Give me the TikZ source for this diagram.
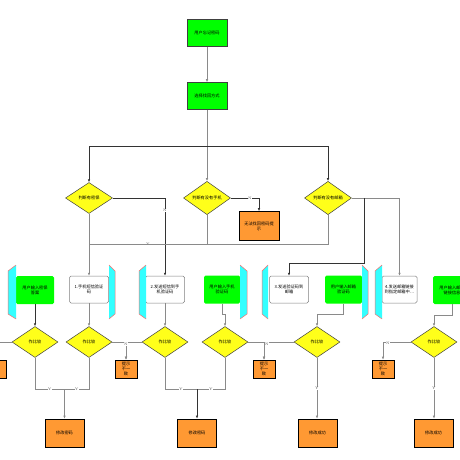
\documentclass[tikz,border=0pt]{standalone}
\usepackage{fontspec}
\newfontfamily\cjk{Noto Sans CJK SC}
\usetikzlibrary{shapes.geometric, arrows.meta}

\definecolor{flowgreen}{HTML}{00FF00}
\definecolor{flowyellow}{HTML}{FFFF1A}
\definecolor{floworange}{HTML}{FF9933}
\definecolor{panelcyan}{HTML}{33FFFF}
\definecolor{panelred}{HTML}{FF6B6B}
\definecolor{lineg}{HTML}{8A8A8A}

\begin{document}
\begin{tikzpicture}[x=1pt, y=-1pt, >={Latex[length=3pt,width=2.6pt]},
  every node/.style={font=\cjk\fontsize{4.2}{5}\selectfont, align=center, inner sep=1pt},
  greenbox/.style={draw=gray!50!black, line width=.6pt, fill=flowgreen, minimum width=40pt, minimum height=27pt},
  inputbox/.style={fill=flowgreen, rounded corners=1.5pt, minimum width=38pt, minimum height=28pt},
  sendbox/.style={draw=gray, line width=.5pt, fill=white, rounded corners=1.5pt, minimum width=39pt, minimum height=27pt},
  judge/.style={diamond, draw=gray!50!black, line width=.5pt, fill=flowyellow, minimum width=47pt, minimum height=31pt, inner sep=0pt},
  endbox/.style={draw=black, line width=.7pt, fill=floworange, minimum width=39pt, minimum height=28pt},
  tipbox/.style={draw=black, line width=.6pt, fill=floworange, minimum width=22pt, minimum height=18pt, inner sep=0pt},
  flow/.style={draw=lineg, line width=.6pt},
  darkflow/.style={draw=black!80, line width=.6pt},
  yn/.style={font=\fontsize{3.6}{4}\selectfont, fill=white, inner sep=.3pt, text=gray!60!black}
]
\useasboundingbox (0,0) rectangle (460,460);
\clip (0,0) rectangle (460,460);

% Side panel beside a box (inner x, outer x)
\newcommand{\sidepanel}[2]{
    \fill[panelcyan] (#1,265) -- (#1,319) -- (#2,314) -- (#2,271) -- cycle;
    \draw[panelred, line width=.5pt] (#1,265) -- (#2,271) -- (#2,314) -- (#1,319);
}

% --- Top: start and choice ---
\node[greenbox] (start) at (207,33) {用户忘记密码};
\node[greenbox] (choose) at (207,96) {选择找回方式};
\draw[flow,->] (start) -- (choose);

% --- Judgements ---
\node[judge] (judgeA) at (89,198) {判断有密保};
\node[judge] (judgeB) at (207,198) {判断有没有手机};
\node[judge] (judgeC) at (328,198) {判断有没有邮箱};
\node[endbox, minimum width=40pt, minimum height=29pt] (nofind) at (259,226) {无法找回密码提\\示};

\coordinate (split) at (207,146);
\draw[flow] (choose) -- (split);
\draw[darkflow,->] (split) -| (judgeA.north);
\draw[flow,->] (split) -- (judgeB.north);
\draw[darkflow,->] (split) -| (judgeC.north);

% --- Send boxes, input boxes and panels ---
\node[inputbox] (inA) at (35,290) {用户输入密保\\答案};
\node[sendbox] (sendA) at (89,289.5) {1.手机短信验证\\码};
\node[sendbox] (sendB) at (165,289.5) {2.发送短信到手\\机验证码};
\node[inputbox, minimum width=36pt] (inB) at (222,289.5) {用户输入手机\\验证码};
\node[sendbox] (sendC) at (289,289.5) {3.发送验证码到\\邮箱};
\node[inputbox, minimum width=37pt] (inC) at (343.5,289.5) {用户输入邮箱\\验证码};
\node[sendbox, minimum width=35pt] (sendD) at (399.5,289.5) {4.发送邮箱链接\\到指定邮箱中…};
\node[inputbox] (inD) at (452,290) {用户输入邮箱\\链接信息};

\foreach \inner/\outer in {16/8, 109/115, 146/139, 240/247, 268/262, 362/368, 382/375} {
    \sidepanel{\inner}{\outer}
}

% --- Judgement branches ---
\coordinate (ymerge) at (89,244);
\coordinate (cturn) at (364,263);
\coordinate (csplit) at (364,198);
\draw[flow,->] (judgeA.south) -- (sendA.north);
\draw[darkflow,->] (judgeA.east) -| node[yn, pos=.58]{N} (sendB.north);
\draw[flow] (judgeB.south) |- node[yn, pos=.75]{Y} (ymerge);
\draw[flow] (judgeC.south) |- (ymerge);
\draw[darkflow,->] (judgeB.east) -| node[yn, pos=.34]{N} (nofind.north);
\draw[flow,->] (judgeC.east) -| (sendD.north);
\draw[darkflow,->] (csplit) -- (cturn) -| (sendC.north);

% --- Compare row ---
\foreach \name/\x in {cmpA/35, cmpB/89, cmpC/165, cmpD/225, cmpE/317, cmpF/434} {
    \node[judge, minimum width=46pt] (\name) at (\x,342) {作比较};
}
\foreach \name/\x in {tipA/-5, tipB/126, tipC/264, tipD/383} {
    \node[tipbox] (\name) at (\x,369) {提示\\不一\\致};
}

\draw[darkflow,->] (inA) -- (cmpA);
\draw[flow,->] (sendA) -- (cmpB);
\draw[flow,->] (sendB) -- (cmpC);
\draw[flow,->] (inB.south) -- ++(0,11) -| (cmpD.north);
\draw[flow,->] (inC.south) -- ++(0,11) -| (cmpE.north);
\draw[flow,->] (inD.south) -- ++(0,11) -| (cmpF.north);

\draw[flow,->] (cmpA.west) -| (tipA.north);
\draw[flow,->] (cmpB.east) -| (tipB.north);
\draw[flow,->] (cmpC.west) -| (tipB.north);
\draw[flow,->] (cmpD.east) -| (tipC.north);
\draw[flow,->] (cmpE.west) -| (tipC.north);
\draw[flow,->] (cmpF.west) -| (tipD.north);
\node[yn] at (126,344) {N};
\node[yn] at (267,344) {N};
\node[yn] at (388,343) {N};

% --- Results ---
\node[endbox] (endA) at (64.5,433) {修改密码};
\node[endbox] (endB) at (197,433) {修改密码};
\node[endbox] (endC) at (317.5,433) {修改成功};
\node[endbox] (endD) at (433.5,433) {修改成功};

\coordinate (mergeA) at (64.5,389);
\coordinate (mergeB) at (197,389);
\draw[flow] (cmpA.south) |- node[yn, pos=.75]{Y} (mergeA);
\draw[flow] (cmpB.south) |- node[yn, pos=.75]{Y} (mergeA);
\draw[flow,->] (mergeA) -- (endA.north);
\draw[flow] (cmpC.south) |- node[yn, pos=.75]{Y} (mergeB);
\draw[flow] (cmpD.south) |- node[yn, pos=.75]{Y} (mergeB);
\draw[darkflow,->] (mergeB) -- (endB.north);
\draw[flow,->] (cmpE.south) -- node[yn, pos=.5]{Y} (cmpE.south |- endC.north);
\draw[flow,->] (cmpF.south) -- node[yn, pos=.5]{Y} (cmpF.south |- endD.north);

\end{tikzpicture}
\end{document}
